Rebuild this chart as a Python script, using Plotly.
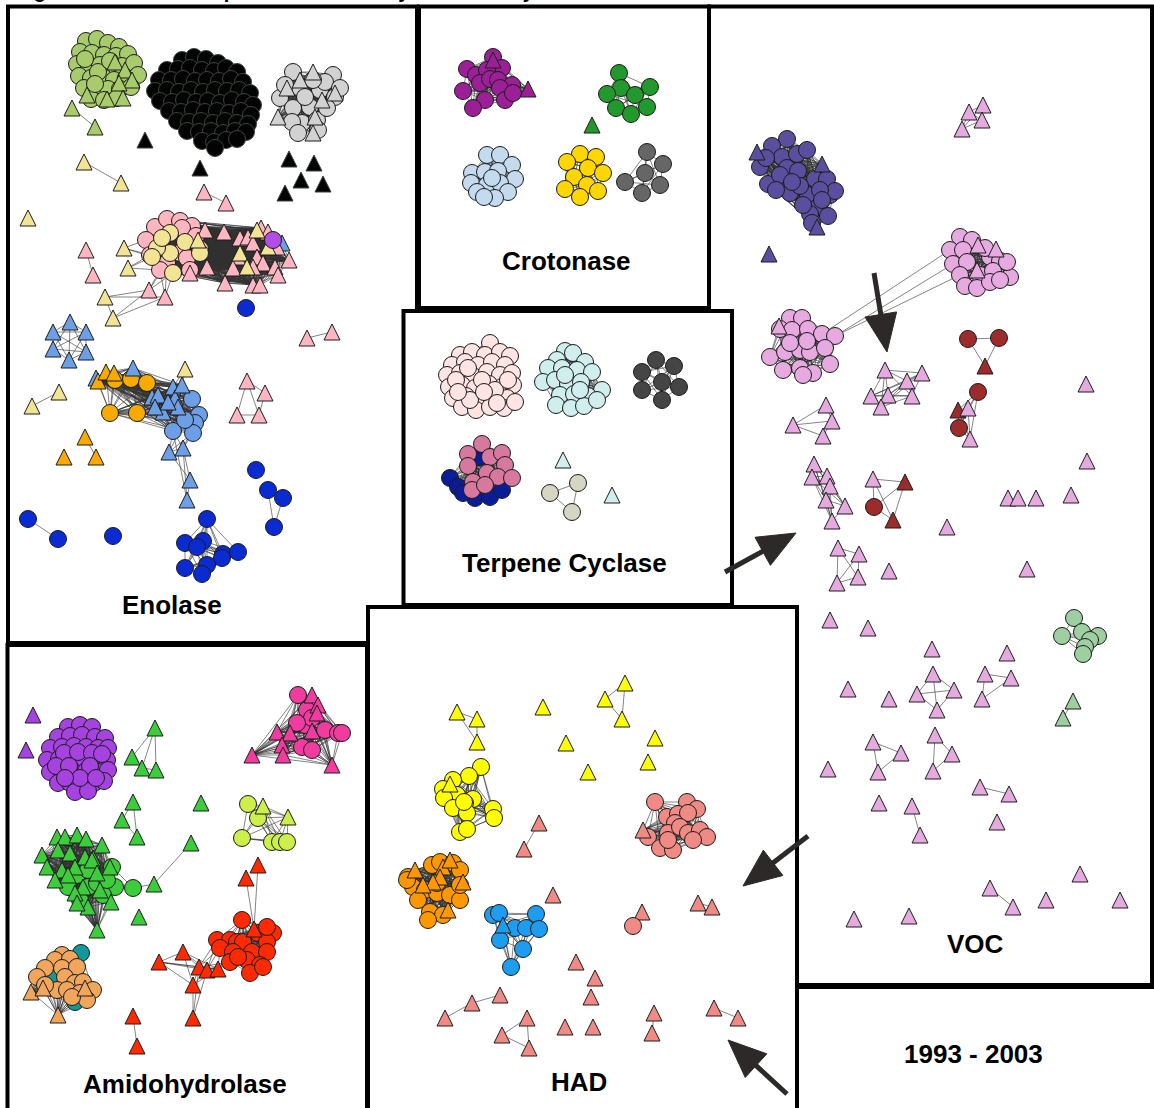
import math
import plotly.graph_objects as go

W, H = 1154, 1108

# ---------------------------------------------------------------------------
# Node layouts (x, y) per family. "_C" lists are circle nodes, "_T" lists are
# triangle nodes.
# ---------------------------------------------------------------------------

# ---- Enolase ----
ENO_LIME_C = [(86, 41), (97, 39), (108, 43), (119, 47), (80, 52), (92, 53), (104, 55), (116, 56), (128, 54),
              (77, 64), (89, 66), (100, 65), (111, 68), (122, 66), (134, 63), (79, 76), (91, 78), (103, 77),
              (114, 80), (126, 78), (138, 75), (84, 88), (96, 90), (108, 89), (120, 89), (131, 87), (91, 99),
              (104, 100), (117, 98), (85, 59), (98, 72), (110, 61), (95, 84)]
ENO_LIME_T = [(115, 62), (125, 70), (132, 80), (119, 83), (107, 99), (123, 98), (87, 95)]
ENO_LIME_PAIR_T = [(72, 108), (95, 127)]

ENO_BLACK_C = [(182, 60), (194, 57), (206, 59), (218, 63), (167, 70), (178, 69), (190, 68), (202, 70), (214, 71),
               (226, 68), (237, 72), (159, 80), (171, 80), (183, 79), (195, 81), (207, 80), (219, 81), (231, 79),
               (243, 82), (155, 91), (167, 90), (179, 92), (191, 90), (203, 92), (215, 90), (227, 91), (239, 90),
               (250, 93), (160, 101), (172, 102), (184, 100), (196, 102), (208, 101), (220, 103), (232, 100),
               (244, 102), (253, 105), (169, 111), (181, 112), (193, 110), (205, 112), (217, 111), (229, 113),
               (241, 111), (251, 115), (177, 121), (189, 122), (201, 121), (213, 123), (225, 121), (237, 123),
               (248, 124), (187, 131), (199, 132), (211, 131), (223, 133), (235, 131), (246, 132), (202, 141),
               (214, 142), (226, 140), (237, 139), (215, 148)]
ENO_BLACK_T = [(145, 140), (200, 168), (289, 159), (314, 163), (301, 180), (323, 184), (285, 193)]

ENO_GRAY_C = [(293, 72), (333, 75), (280, 98), (293, 108), (302, 123), (320, 90), (325, 82), (335, 97), (310, 107),
              (292, 122), (317, 120), (300, 88), (313, 80), (285, 85), (327, 108), (305, 97), (340, 88), (298, 133),
              (318, 130)]
ENO_GRAY_T = [(313, 72), (287, 88), (335, 93), (278, 117), (315, 117), (313, 133), (300, 80), (322, 100)]

ENO_KHAKI_PAIR_T = [(84, 162), (121, 183)]
ENO_KHAKI_SOLO_T = [(28, 218)]
ENO_PINK_PAIR_T = [(204, 192), (226, 203)]

ENO_PINK_CORE_C = [(155, 227), (167, 219), (180, 221), (192, 226), (146, 240), (182, 228), (196, 236), (150, 255),
                   (180, 253), (187, 258), (167, 263), (160, 270), (200, 249), (190, 270)]
ENO_KHAKI_CORE_C = [(170, 233), (170, 253), (200, 253), (157, 248), (173, 273), (152, 257), (185, 242), (162, 238)]
ENO_CORN_HIDDEN_T = [(282, 243)]
ENO_PINK_CORE_T = [(205, 230), (224, 232), (240, 238), (248, 237), (261, 228), (253, 243), (277, 247), (238, 257),
                   (257, 257), (263, 263), (275, 267), (289, 260), (207, 267), (233, 268), (253, 267), (278, 275),
                   (225, 283), (253, 285), (260, 285), (190, 273), (268, 232)]
ENO_KHAKI_CORE_T = [(198, 240), (240, 253), (268, 247), (247, 267), (257, 230)]
ENO_ORCHID_C = [(273, 240)]
ENO_PINK_OUT_T = [(86, 250), (93, 275), (149, 290), (165, 297)]
ENO_KHAKI_OUT_T = [(124, 248), (128, 268), (105, 297), (113, 318)]

ENO_BLUE_SOLO_C = [(246, 308), (256, 470), (113, 536)]
ENO_PINK_PAIR2_T = [(307, 338), (332, 332)]
ENO_CORN_HEX_T = [(53, 332), (70, 322), (86, 332), (53, 349), (86, 352), (69, 360)]
ENO_KHAKI_PAIR2_T = [(32, 406), (59, 392)]

ENO_CORN_BACK_T = [(96, 378)]
ENO_ORANGE_C = [(115, 380), (131, 379), (147, 383), (110, 413), (137, 413)]
ENO_ORANGE_T = [(98, 381), (106, 372), (114, 373)]
ENO_CORN_T = [(133, 368), (152, 397), (158, 395), (173, 387), (175, 398), (163, 412), (178, 407), (155, 407),
              (182, 385), (168, 402)]
ENO_CORN_C = [(192, 399), (199, 415), (195, 423), (173, 431), (193, 433), (185, 420)]
ENO_CORN_LOW_T = [(169, 452), (183, 448), (190, 480), (187, 500)]
ENO_KHAKI_LINK_T = [(185, 369)]

ENO_ORANGE_SOLO_T = [(85, 437), (64, 457), (96, 457)]
ENO_PINK_QUAD_T = [(247, 381), (265, 393), (237, 415), (259, 415)]
ENO_BLUE_TRI_C = [(268, 490), (283, 498), (274, 527)]
ENO_BLUE_PAIR_C = [(28, 519), (58, 539)]
ENO_BLUE_CLUSTER_C = [(207, 519), (185, 543), (203, 541), (197, 547), (223, 554), (222, 558), (238, 552),
                      (185, 568), (207, 565), (202, 574)]

# ---- Crotonase ----
CRO_PURPLE_C = [(467, 69), (476, 75), (493, 57), (502, 68), (487, 70), (480, 83), (490, 79), (498, 80), (512, 85),
                (463, 91), (485, 100), (473, 108), (500, 88), (505, 100), (513, 93)]
CRO_PURPLE_T = [(493, 60), (528, 89)]
CRO_GREEN_C = [(619, 73), (621, 88), (607, 94), (635, 95), (650, 87), (616, 108), (631, 114), (647, 107)]
CRO_GREEN_SOLO_T = [(592, 125)]
CRO_LBLUE_C = [(487, 155), (500, 155), (512, 165), (472, 173), (485, 172), (498, 171), (471, 183), (515, 179),
               (487, 185), (500, 183), (477, 192), (508, 192), (495, 198), (484, 197), (492, 178)]
CRO_GOLD_C = [(580, 154), (596, 157), (567, 162), (588, 168), (603, 173), (574, 177), (587, 185), (598, 191),
              (565, 189), (580, 197)]
CRO_GRAY_C = [(647, 152), (663, 164), (645, 173), (625, 182), (660, 185), (642, 193)]

# ---- Terpene cyclase ----
TER_ROSE_C = [(490, 343), (460, 355), (472, 352), (485, 355), (500, 352), (510, 356), (452, 365), (465, 362),
              (478, 365), (492, 362), (505, 365), (447, 375), (460, 373), (473, 376), (487, 372), (500, 375),
              (512, 373), (449, 387), (462, 385), (475, 388), (489, 384), (502, 387), (513, 385), (453, 398),
              (466, 396), (480, 399), (494, 396), (507, 398), (462, 407), (476, 410), (490, 407), (504, 408),
              (515, 402), (456, 380), (468, 368), (482, 380), (495, 390), (508, 380), (470, 400), (484, 392),
              (497, 403), (458, 392)]
TER_CYAN_C = [(565, 351), (573, 353), (557, 360), (585, 362), (548, 368), (562, 368), (577, 370), (592, 372),
              (543, 382), (555, 380), (568, 384), (581, 382), (602, 390), (560, 395), (574, 394), (588, 396),
              (556, 405), (571, 408), (584, 406), (597, 400), (565, 375), (580, 390)]
TER_DARK_C = [(642, 372), (656, 360), (674, 366), (662, 382), (642, 390), (679, 387), (662, 400)]
TER_NAVY_C = [(450, 478), (458, 487), (475, 498), (490, 497), (502, 490), (480, 457), (463, 493)]
TER_MAUVE_C = [(482, 444), (468, 454), (490, 457), (502, 453), (468, 466), (505, 465), (487, 473), (498, 477),
               (512, 478), (473, 482), (472, 490), (485, 485)]
TER_CYAN_T = [(563, 460), (612, 495)]
TER_BEIGE_C = [(550, 493), (578, 483), (572, 512)]

# ---- VOC ----
VOC_SLATE_C = [(787, 139), (772, 146), (782, 157), (797, 154), (807, 150), (760, 167), (787, 168), (768, 184),
               (780, 175), (798, 171), (815, 179), (827, 179), (790, 193), (808, 195), (818, 207), (830, 195),
               (835, 191), (828, 216), (810, 214), (812, 223), (800, 186), (766, 158), (776, 190), (792, 182),
               (820, 190), (803, 205), (822, 200)]
VOC_SLATE_T = [(757, 152), (822, 164), (817, 227)]
VOC_SLATE_SOLO_T = [(769, 254)]
VOC_TOP_T = [(983, 105), (969, 112), (982, 120), (962, 129)]
VOC_PLUM_A_C = [(960, 237), (972, 240), (950, 250), (963, 250), (953, 264), (967, 262), (990, 257), (1000, 261),
                (960, 275), (980, 275), (993, 271), (1010, 277), (965, 286), (977, 288), (990, 282), (1000, 280),
                (985, 248), (1007, 262)]
VOC_PLUM_A_T = [(978, 245), (996, 249), (977, 270)]
VOC_PLUM_B_C = [(790, 318), (802, 318), (780, 329), (792, 330), (808, 329), (822, 334), (835, 336), (770, 357),
                (785, 352), (800, 350), (810, 352), (825, 348), (783, 370), (800, 368), (813, 373), (830, 364),
                (803, 375), (790, 343), (807, 341)]
VOC_PLUM_B_T = [(779, 326)]
VOC_ARROW_GROUP_T = [(885, 370), (922, 373), (907, 381), (871, 396), (888, 395), (912, 396), (881, 407)]
VOC_BROWN1_C = [(968, 339), (999, 338)]
VOC_BROWN1_T = [(985, 366)]
VOC_BROWN2_C = [(978, 392), (959, 428)]
VOC_BROWN2_T = [(958, 410)]
VOC_BROWN2_PLUM_T = [(968, 408), (970, 439)]
VOC_LEFT_T = [(826, 405), (793, 425), (832, 421), (823, 436)]
VOC_STACK_T = [(814, 464), (812, 477), (827, 476), (830, 486), (826, 500), (845, 506), (832, 521)]
VOC_BROWN3_PLUM_T = [(873, 479)]
VOC_BROWN3_T = [(905, 482), (893, 520)]
VOC_BROWN3_C = [(874, 507)]
VOC_SOLO_T = [(1086, 384), (1087, 461), (1008, 498), (1018, 498), (1036, 498), (1071, 495), (947, 527),
              (889, 571), (1027, 569), (830, 620), (868, 628), (932, 649), (1007, 653), (848, 689), (889, 699),
              (828, 769), (997, 822), (1080, 874), (1046, 900), (1120, 900), (854, 919), (909, 916), (879, 803)]
VOC_G1_T = [(838, 548), (859, 554), (837, 583), (858, 577)]
VOC_G2_T = [(933, 674), (917, 694), (954, 690), (937, 710)]
VOC_G3_T = [(985, 674), (1011, 678), (982, 699)]
VOC_G4_T = [(873, 742), (901, 753), (878, 772)]
VOC_G5_T = [(935, 735), (952, 754), (933, 771)]
VOC_PAIRS_T = [(980, 787), (1009, 794), (912, 806), (920, 835), (990, 888), (1013, 907)]
VOC_SAGE_C = [(1074, 618), (1082, 632), (1062, 636), (1098, 636), (1090, 640), (1085, 647), (1083, 654)]
VOC_SAGE_T = [(1073, 701), (1063, 718)]

# ---- Amidohydrolase ----
AMI_PURPLE_C = [(68, 727), (80, 725), (92, 727), (58, 737), (70, 736), (82, 735), (95, 737), (105, 738), (50, 748),
                (62, 747), (74, 746), (86, 747), (98, 748), (108, 748), (47, 760), (59, 759), (71, 760), (83, 758),
                (95, 760), (107, 760), (50, 772), (62, 771), (74, 772), (86, 771), (98, 772), (108, 770), (58, 783),
                (70, 783), (82, 785), (94, 783), (104, 781), (75, 792), (88, 791), (64, 753), (78, 752), (92, 753),
                (56, 766), (69, 766), (90, 766), (102, 754), (80, 778), (65, 778), (96, 778)]
AMI_PURPLE_T = [(33, 715), (26, 750)]
AMI_GREEN_A_T = [(155, 728), (132, 757), (142, 768), (156, 770)]
AMI_GREEN_B_T = [(133, 802), (122, 820), (137, 837)]
AMI_GREEN_SOLO_T = [(201, 803), (139, 917)]
AMI_GREEN_BIG_C = [(77, 875), (88, 870), (112, 867), (115, 887), (103, 895), (88, 887), (68, 887), (80, 900),
                   (97, 883), (107, 880)]
AMI_GREEN_BIG_T = [(57, 837), (65, 837), (77, 835), (86, 839), (102, 845), (42, 855), (58, 850), (70, 853),
                   (85, 857), (93, 858), (47, 867), (62, 870), (75, 867), (92, 860), (110, 867), (55, 880),
                   (68, 875), (97, 873), (83, 887), (100, 890), (75, 893), (88, 907), (77, 903), (111, 902),
                   (97, 930)]
AMI_GREEN_LINK_C = [(133, 888)]
AMI_GREEN_LINK_T = [(154, 884), (191, 843)]
AMI_MAGENTA_C = [(298, 695), (307, 710), (305, 725), (325, 730), (338, 733), (342, 733), (302, 747), (312, 750),
                 (312, 718), (297, 723)]
AMI_MAGENTA_T = [(312, 695), (318, 705), (317, 713), (277, 732), (290, 733), (312, 731), (282, 745), (283, 755),
                 (252, 755), (332, 765)]
AMI_YG_C = [(248, 804), (258, 818), (242, 838), (272, 842), (280, 842), (287, 842)]
AMI_YG_T = [(263, 806), (288, 817)]
AMI_RED_C = [(242, 920), (217, 940), (230, 940), (237, 942), (243, 942), (258, 933), (273, 933), (267, 942),
             (220, 948), (233, 952), (252, 952), (267, 952), (230, 962), (247, 960), (260, 965), (250, 973),
             (263, 967), (238, 957), (267, 927)]
AMI_RED_HUB_T = [(254, 929)]
AMI_RED_TOP_T = [(258, 865), (246, 878)]
AMI_RED_LOW_T = [(183, 952), (159, 962), (199, 967), (207, 970), (218, 969), (193, 985)]
AMI_RED_TAIL_T = [(193, 1018)]
AMI_RED_PAIR_T = [(133, 1016), (137, 1046)]
AMI_TEAL_C = [(81, 953), (50, 978), (75, 1002)]
AMI_SANDY_C = [(62, 955), (55, 960), (70, 959), (45, 968), (62, 968), (77, 967), (37, 977), (65, 977), (75, 983),
               (83, 982), (93, 990), (57, 990), (67, 990), (80, 993), (87, 1000), (72, 997), (45, 985)]
AMI_SANDY_T = [(31, 992), (43, 988), (85, 988), (58, 1015)]

# ---- HAD ----
HAD_YELLOW_TRIO_T = [(457, 712), (477, 719), (477, 742)]
HAD_YELLOW_TRIO2_T = [(605, 699), (625, 683), (622, 719)]
HAD_YELLOW_SOLO_T = [(543, 707), (566, 743), (588, 772), (655, 738), (648, 762)]
HAD_YELLOW_C = [(481, 767), (469, 776), (453, 780), (443, 789), (457, 795), (473, 799), (465, 803), (444, 798),
                (453, 808), (467, 813), (493, 809), (494, 818), (460, 832), (467, 829), (464, 802)]
HAD_YELLOW_T = [(450, 784)]
HAD_ORANGE_C = [(408, 877), (432, 865), (440, 862), (453, 863), (460, 870), (413, 887), (425, 890), (437, 893),
                (450, 895), (460, 900), (418, 900), (430, 912), (443, 915), (428, 920), (407, 880), (460, 885),
                (437, 883)]
HAD_ORANGE_T = [(415, 870), (443, 867), (450, 860), (463, 882), (440, 877), (433, 882), (448, 910), (423, 885)]
HAD_SALMON_C = [(655, 802), (687, 802), (697, 809), (667, 817), (678, 814), (688, 813), (675, 823), (668, 833),
                (680, 827), (688, 833), (700, 830), (707, 837), (648, 837), (660, 848), (673, 850), (668, 840),
                (693, 840)]
HAD_SALMON_T = [(643, 830)]
HAD_SALMON_PAIR_T = [(539, 823), (524, 849)]
HAD_SALMON_SOLO_T = [(553, 895), (576, 962), (595, 978), (591, 997), (565, 1027), (593, 1027)]
HAD_SALMON_DUO_T = [(642, 912)]
HAD_SALMON_DUO_C = [(633, 926)]
HAD_SALMON_EDGE_T = [(698, 903), (712, 907), (654, 1013), (652, 1033), (714, 1008), (738, 1018)]
HAD_SALMON_CHAIN_T = [(500, 995), (472, 1003), (445, 1018)]
HAD_SALMON_TRI_T = [(527, 1018), (502, 1035), (529, 1048)]
HAD_BLUE_C = [(493, 915), (499, 913), (536, 914), (515, 928), (526, 928), (539, 929), (500, 940), (523, 949),
              (511, 967)]
HAD_BLUE_T = [(503, 925)]

# ---- Panel captions ----
PANEL_LABELS = ["Enolase", "Crotonase", "Terpene Cyclase", "Amidohydrolase", "HAD", "VOC", "1993 - 2003"]
PANEL_LABEL_POS = [(172, 605), (566, 261), (564, 563), (185, 1084), (579, 1082), (975, 944), (973, 1054)]

# ---------------------------------------------------------------------------
# Styling
# ---------------------------------------------------------------------------
PALETTE = {
    "lime": "#a8cb6c", "black": "#030303", "lgray": "#d2d2d2", "khaki": "#f2e494", "pink": "#ffb6c1",
    "orchid": "#b24ee6", "blue": "#0a2bd2", "corn": "#6d9fe6", "orange": "#f7aa00",
    "c_purple": "#9b2097", "c_green": "#21992d", "c_lblue": "#c4daef", "c_gold": "#ffd700", "c_gray": "#666666",
    "t_rose": "#ffe4e4", "t_cyan": "#d1eeee", "t_dark": "#454545", "t_mauve": "#d7789f", "t_navy": "#0b1d96",
    "t_beige": "#d6d6c2",
    "v_slate": "#5a4f9f", "v_plum": "#e6aae1", "v_brown": "#9c2b2b", "v_sage": "#9ecfa1",
    "a_purple": "#a542e0", "a_green": "#3ccc3c", "a_magenta": "#ef3c9e", "a_yg": "#cdef4b", "a_red": "#ff2a00",
    "a_sandy": "#f2a65c", "a_teal": "#12989a",
    "h_yellow": "#ffff00", "h_orange": "#ff9800", "h_salmon": "#f08a84", "h_blue": "#1e9df0",
}
OUTLINE = "#1c1c1c"
CIRCLE_SIZE = 17
TRI_SIZE = 16
EDGE_COLOR = "#333333"
ARROW_COLOR = "#2d2929"

# drawing order of node groups: (family, kind, nodes)
NODE_LAYERS = [
    ("lime", "c", ENO_LIME_C), ("lime", "t", ENO_LIME_T), ("lime", "t", ENO_LIME_PAIR_T),
    ("black", "c", ENO_BLACK_C), ("black", "t", ENO_BLACK_T),
    ("lgray", "c", ENO_GRAY_C), ("lgray", "t", ENO_GRAY_T),
    ("khaki", "t", ENO_KHAKI_PAIR_T), ("khaki", "t", ENO_KHAKI_SOLO_T), ("pink", "t", ENO_PINK_PAIR_T),
    ("pink", "c", ENO_PINK_CORE_C), ("khaki", "c", ENO_KHAKI_CORE_C), ("corn", "t", ENO_CORN_HIDDEN_T),
    ("pink", "t", ENO_PINK_CORE_T), ("khaki", "t", ENO_KHAKI_CORE_T), ("orchid", "c", ENO_ORCHID_C),
    ("pink", "t", ENO_PINK_OUT_T), ("khaki", "t", ENO_KHAKI_OUT_T),
    ("blue", "c", ENO_BLUE_SOLO_C), ("pink", "t", ENO_PINK_PAIR2_T), ("corn", "t", ENO_CORN_HEX_T),
    ("khaki", "t", ENO_KHAKI_PAIR2_T), ("corn", "t", ENO_CORN_BACK_T), ("orange", "c", ENO_ORANGE_C),
    ("orange", "t", ENO_ORANGE_T), ("corn", "c", ENO_CORN_C), ("corn", "t", ENO_CORN_T),
    ("corn", "t", ENO_CORN_LOW_T), ("khaki", "t", ENO_KHAKI_LINK_T), ("orange", "t", ENO_ORANGE_SOLO_T),
    ("pink", "t", ENO_PINK_QUAD_T), ("blue", "c", ENO_BLUE_TRI_C), ("blue", "c", ENO_BLUE_PAIR_C),
    ("blue", "c", ENO_BLUE_CLUSTER_C),
    ("c_purple", "c", CRO_PURPLE_C), ("c_purple", "t", CRO_PURPLE_T), ("c_green", "c", CRO_GREEN_C),
    ("c_green", "t", CRO_GREEN_SOLO_T), ("c_lblue", "c", CRO_LBLUE_C), ("c_gold", "c", CRO_GOLD_C),
    ("c_gray", "c", CRO_GRAY_C),
    ("t_rose", "c", TER_ROSE_C), ("t_cyan", "c", TER_CYAN_C), ("t_dark", "c", TER_DARK_C),
    ("t_navy", "c", TER_NAVY_C), ("t_mauve", "c", TER_MAUVE_C), ("t_cyan", "t", TER_CYAN_T),
    ("t_beige", "c", TER_BEIGE_C),
    ("v_slate", "c", VOC_SLATE_C), ("v_slate", "t", VOC_SLATE_T), ("v_slate", "t", VOC_SLATE_SOLO_T),
    ("v_plum", "t", VOC_TOP_T), ("v_plum", "c", VOC_PLUM_A_C), ("v_plum", "t", VOC_PLUM_A_T),
    ("v_plum", "c", VOC_PLUM_B_C), ("v_plum", "t", VOC_PLUM_B_T), ("v_plum", "t", VOC_ARROW_GROUP_T),
    ("v_brown", "c", VOC_BROWN1_C), ("v_brown", "t", VOC_BROWN1_T), ("v_brown", "c", VOC_BROWN2_C),
    ("v_brown", "t", VOC_BROWN2_T), ("v_plum", "t", VOC_BROWN2_PLUM_T), ("v_plum", "t", VOC_LEFT_T),
    ("v_plum", "t", VOC_STACK_T), ("v_plum", "t", VOC_BROWN3_PLUM_T), ("v_brown", "t", VOC_BROWN3_T),
    ("v_brown", "c", VOC_BROWN3_C), ("v_plum", "t", VOC_SOLO_T), ("v_plum", "t", VOC_G1_T),
    ("v_plum", "t", VOC_G2_T), ("v_plum", "t", VOC_G3_T), ("v_plum", "t", VOC_G4_T), ("v_plum", "t", VOC_G5_T),
    ("v_plum", "t", VOC_PAIRS_T), ("v_sage", "c", VOC_SAGE_C), ("v_sage", "t", VOC_SAGE_T),
    ("a_purple", "c", AMI_PURPLE_C), ("a_purple", "t", AMI_PURPLE_T), ("a_green", "t", AMI_GREEN_A_T),
    ("a_green", "t", AMI_GREEN_B_T), ("a_green", "t", AMI_GREEN_SOLO_T), ("a_green", "c", AMI_GREEN_BIG_C),
    ("a_green", "t", AMI_GREEN_BIG_T), ("a_green", "c", AMI_GREEN_LINK_C), ("a_green", "t", AMI_GREEN_LINK_T),
    ("a_magenta", "c", AMI_MAGENTA_C), ("a_magenta", "t", AMI_MAGENTA_T), ("a_yg", "c", AMI_YG_C),
    ("a_yg", "t", AMI_YG_T), ("a_red", "c", AMI_RED_C), ("a_red", "t", AMI_RED_HUB_T),
    ("a_red", "t", AMI_RED_TOP_T), ("a_red", "t", AMI_RED_LOW_T), ("a_red", "t", AMI_RED_TAIL_T),
    ("a_red", "t", AMI_RED_PAIR_T), ("a_teal", "c", AMI_TEAL_C), ("a_sandy", "c", AMI_SANDY_C),
    ("a_sandy", "t", AMI_SANDY_T),
    ("h_yellow", "t", HAD_YELLOW_TRIO_T), ("h_yellow", "t", HAD_YELLOW_TRIO2_T),
    ("h_yellow", "t", HAD_YELLOW_SOLO_T), ("h_yellow", "c", HAD_YELLOW_C), ("h_yellow", "t", HAD_YELLOW_T),
    ("h_orange", "c", HAD_ORANGE_C), ("h_orange", "t", HAD_ORANGE_T), ("h_salmon", "c", HAD_SALMON_C),
    ("h_salmon", "t", HAD_SALMON_T), ("h_salmon", "t", HAD_SALMON_PAIR_T), ("h_salmon", "t", HAD_SALMON_SOLO_T),
    ("h_salmon", "t", HAD_SALMON_DUO_T), ("h_salmon", "c", HAD_SALMON_DUO_C),
    ("h_salmon", "t", HAD_SALMON_EDGE_T), ("h_salmon", "t", HAD_SALMON_CHAIN_T),
    ("h_salmon", "t", HAD_SALMON_TRI_T), ("h_blue", "c", HAD_BLUE_C), ("h_blue", "t", HAD_BLUE_T),
]

# ---------------------------------------------------------------------------
# Edges (similarity links between nodes)
# ---------------------------------------------------------------------------
EDGES = []


def clique(*groups):
    pts = [p for g in groups for p in g]
    for i in range(len(pts)):
        for j in range(i + 1, len(pts)):
            EDGES.append((pts[i], pts[j]))


def link(a, b):
    EDGES.append((a, b))


def pairs(group, idx):
    for i, j in idx:
        EDGES.append((group[i], group[j]))


def attach(src, dst, k):
    for p in src:
        near = sorted(dst, key=lambda q: (q[0] - p[0]) ** 2 + (q[1] - p[1]) ** 2)[:k]
        for q in near:
            EDGES.append((p, q))


# Enolase
clique(ENO_LIME_C, ENO_LIME_T)
pairs(ENO_LIME_PAIR_T, [(0, 1)])
clique(ENO_BLACK_C)
clique(ENO_GRAY_C, ENO_GRAY_T)
pairs(ENO_KHAKI_PAIR_T, [(0, 1)])
pairs(ENO_PINK_PAIR_T, [(0, 1)])
clique(ENO_PINK_CORE_C, ENO_KHAKI_CORE_C, ENO_PINK_CORE_T, ENO_KHAKI_CORE_T, ENO_ORCHID_C, ENO_CORN_HIDDEN_T)
pairs(ENO_PINK_OUT_T, [(0, 1)])
attach(ENO_KHAKI_OUT_T[:2], ENO_PINK_CORE_C + ENO_KHAKI_CORE_C, 3)
attach(ENO_PINK_OUT_T[2:], ENO_PINK_CORE_C + ENO_KHAKI_CORE_C + ENO_PINK_CORE_T, 3)
for kt in ENO_KHAKI_OUT_T[2:]:
    for pt in ENO_PINK_OUT_T[2:]:
        link(kt, pt)
link(ENO_KHAKI_OUT_T[2], ENO_KHAKI_OUT_T[3])
pairs(ENO_PINK_PAIR2_T, [(0, 1)])
clique(ENO_CORN_HEX_T)
pairs(ENO_KHAKI_PAIR2_T, [(0, 1)])
clique(ENO_CORN_BACK_T, ENO_ORANGE_C, ENO_ORANGE_T, ENO_CORN_T, ENO_CORN_C)
attach(ENO_KHAKI_LINK_T, ENO_ORANGE_C + ENO_CORN_T, 3)
attach(ENO_CORN_LOW_T[:2], ENO_CORN_C + ENO_CORN_T, 3)
pairs(ENO_CORN_LOW_T, [(0, 1), (0, 2), (1, 2), (2, 3), (1, 3)])
link(ENO_CORN_LOW_T[3], ENO_CORN_C[3])
pairs(ENO_ORANGE_SOLO_T, [(0, 2)])
pairs(ENO_PINK_QUAD_T, [(0, 1), (0, 2), (0, 3), (1, 3), (2, 3)])
pairs(ENO_BLUE_TRI_C, [(0, 2), (1, 2)])
pairs(ENO_BLUE_PAIR_C, [(0, 1)])
clique(ENO_BLUE_CLUSTER_C)

# Crotonase
clique(CRO_PURPLE_C, CRO_PURPLE_T)
clique(CRO_GREEN_C)
clique(CRO_LBLUE_C)
clique(CRO_GOLD_C)
clique(CRO_GRAY_C)

# Terpene cyclase
clique(TER_ROSE_C)
clique(TER_CYAN_C)
clique(TER_DARK_C)
clique(TER_NAVY_C, TER_MAUVE_C)
clique(TER_BEIGE_C)

# VOC
clique(VOC_SLATE_C, VOC_SLATE_T)
clique(VOC_TOP_T)
clique(VOC_PLUM_A_C, VOC_PLUM_A_T)
clique(VOC_PLUM_B_C, VOC_PLUM_B_T)
link(VOC_PLUM_B_C[6], VOC_PLUM_A_C[4])
link(VOC_PLUM_B_C[6], VOC_PLUM_A_C[8])
link(VOC_PLUM_B_C[5], VOC_PLUM_A_C[2])
clique(VOC_ARROW_GROUP_T)
clique(VOC_BROWN1_C, VOC_BROWN1_T)
clique(VOC_BROWN2_C, VOC_BROWN2_T, VOC_BROWN2_PLUM_T)
pairs(VOC_LEFT_T, [(1, 0), (1, 2), (1, 3), (0, 2), (2, 3)])
clique(VOC_STACK_T)
clique(VOC_BROWN3_PLUM_T, VOC_BROWN3_T, VOC_BROWN3_C)
clique(VOC_G1_T)
clique(VOC_G2_T)
clique(VOC_G3_T)
clique(VOC_G4_T)
clique(VOC_G5_T)
pairs(VOC_PAIRS_T, [(0, 1), (2, 3), (4, 5)])
clique(VOC_SAGE_C)
pairs(VOC_SAGE_T, [(0, 1)])

# Amidohydrolase
clique(AMI_PURPLE_C)
pairs(AMI_GREEN_A_T, [(0, 1), (0, 2), (0, 3), (1, 2), (2, 3)])
clique(AMI_GREEN_B_T)
clique(AMI_GREEN_BIG_C, AMI_GREEN_BIG_T)
attach(AMI_GREEN_LINK_C, AMI_GREEN_BIG_C, 3)
link(AMI_GREEN_LINK_C[0], AMI_GREEN_LINK_T[0])
link(AMI_GREEN_LINK_T[0], AMI_GREEN_LINK_T[1])
clique(AMI_MAGENTA_C, AMI_MAGENTA_T)
clique(AMI_YG_C, AMI_YG_T)
clique(AMI_RED_C, AMI_RED_HUB_T)
for t in AMI_RED_TOP_T:
    link(t, AMI_RED_HUB_T[0])
clique(AMI_RED_LOW_T)
attach(AMI_RED_LOW_T[2:5], AMI_RED_C, 3)
attach(AMI_RED_TAIL_T, AMI_RED_LOW_T, 3)
pairs(AMI_RED_PAIR_T, [(0, 1)])
clique(AMI_TEAL_C, AMI_SANDY_C, AMI_SANDY_T)

# HAD
clique(HAD_YELLOW_TRIO_T)
clique(HAD_YELLOW_TRIO2_T)
clique(HAD_YELLOW_C, HAD_YELLOW_T)
clique(HAD_ORANGE_C, HAD_ORANGE_T)
clique(HAD_SALMON_C, HAD_SALMON_T)
pairs(HAD_SALMON_PAIR_T, [(0, 1)])
link(HAD_SALMON_DUO_T[0], HAD_SALMON_DUO_C[0])
pairs(HAD_SALMON_EDGE_T, [(0, 1), (2, 3), (4, 5)])
pairs(HAD_SALMON_CHAIN_T, [(0, 1), (1, 2)])
clique(HAD_SALMON_TRI_T)
clique(HAD_BLUE_C, HAD_BLUE_T)

# ---------------------------------------------------------------------------
# Figure
# ---------------------------------------------------------------------------
fig = go.Figure()

ex, ey = [], []
for a, b in EDGES:
    ex += [a[0], b[0], None]
    ey += [a[1], b[1], None]
fig.add_trace(go.Scatter(x=ex, y=ey, mode="lines", line=dict(color=EDGE_COLOR, width=0.6),
                         hoverinfo="skip", showlegend=False))

for fam, kind, nodes in NODE_LAYERS:
    xs = [p[0] for p in nodes]
    if kind == "c":
        ys = [p[1] for p in nodes]
        symbol, size = "circle", CIRCLE_SIZE
    else:
        # the arrow-up glyph is anchored at its apex; shift so the glyph is centred on the node
        ys = [p[1] - TRI_SIZE / 2 for p in nodes]
        symbol, size = "arrow-up", TRI_SIZE
    line_col = "#3c443c" if fam == "black" else OUTLINE
    fig.add_trace(go.Scatter(
        x=xs, y=ys, mode="markers", hoverinfo="skip", showlegend=False,
        marker=dict(symbol=symbol, size=size, color=PALETTE[fam], line=dict(color=line_col, width=1)),
    ))

# Panel frames, back to front (later frames cover the ones beneath them)
PANELS = [
    (709, 6.5, 1152, 985),     # VOC
    (797, 987, 1170, 1130),    # period box
    (419, 6.5, 709, 308),      # Crotonase
    (8, 6.5, 417, 643),        # Enolase
    (403.5, 311, 732, 605),    # Terpene cyclase
    (7.5, 645, 367, 1130),     # Amidohydrolase
    (368, 607, 797, 1130),     # HAD
]
shapes = []
for x0, y0, x1, y1 in PANELS:
    shapes.append(dict(type="rect", xref="x", yref="y", x0=x0, y0=y0, x1=x1, y1=y1,
                       fillcolor="white", line=dict(color="black", width=4), layer="below"))

# Arrows: (tail, tip)
ARROWS = [((874, 273), (887, 352)), ((725, 572), (796, 533)), ((808, 836), (743, 886)), ((787, 1094), (728, 1040))]
HEAD_LEN, HEAD_HALF = 38, 16
for (tx, ty), (hx, hy) in ARROWS:
    dx, dy = hx - tx, hy - ty
    L = math.hypot(dx, dy)
    ux, uy = dx / L, dy / L
    bx, by = hx - ux * HEAD_LEN, hy - uy * HEAD_LEN
    px, py = -uy, ux
    shapes.append(dict(type="line", xref="x", yref="y", x0=tx, y0=ty, x1=bx + ux * 4, y1=by + uy * 4,
                       line=dict(color=ARROW_COLOR, width=5), layer="above"))
    shapes.append(dict(type="path", xref="x", yref="y",
                       path=f"M{hx},{hy} L{bx + px * HEAD_HALF},{by + py * HEAD_HALF} "
                            f"L{bx - px * HEAD_HALF},{by - py * HEAD_HALF} Z",
                       fillcolor=ARROW_COLOR, line=dict(color=ARROW_COLOR, width=1), layer="above"))

annotations = []
for text, (x, y) in zip(PANEL_LABELS, PANEL_LABEL_POS):
    annotations.append(dict(x=x, y=y, xref="x", yref="y", text=text, showarrow=False,
                            xanchor="center", yanchor="middle",
                            font=dict(family="Liberation Sans, Arial, sans-serif", size=26, color="black",
                                      weight="bold")))
# figure caption running off the top edge of the page
annotations.append(dict(x=14, y=4.5, xref="x", yref="y", text="Figure 3. Network snapshots for the ten years of study",
                        showarrow=False, xanchor="left", yanchor="bottom",
                        font=dict(family="Liberation Sans, Arial, sans-serif", size=20, color="black",
                                  weight="bold")))

fig.update_layout(
    width=W, height=H, margin=dict(l=0, r=0, t=0, b=0),
    paper_bgcolor="white", plot_bgcolor="white",
    xaxis=dict(range=[0, W], visible=False, fixedrange=True),
    yaxis=dict(range=[H, 0], visible=False, fixedrange=True),
    shapes=shapes, annotations=annotations, showlegend=False,
)

fig.write_html("out.html")
